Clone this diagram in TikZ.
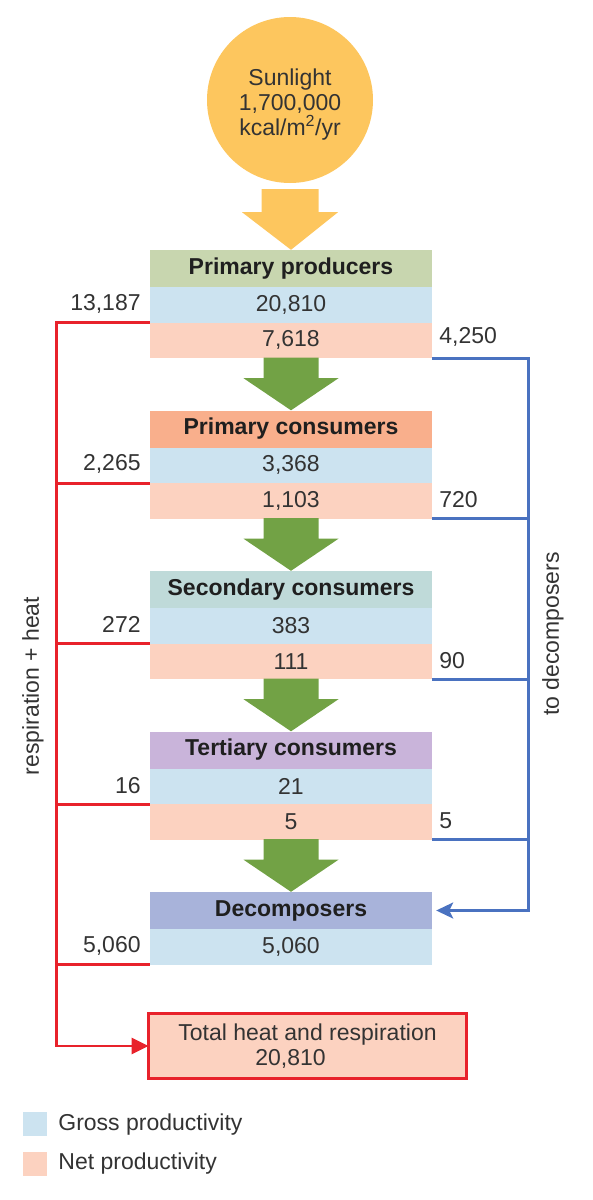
\documentclass[tikz,border=0pt]{standalone}
\usepackage{fontspec}
\setmainfont{Liberation Sans}
\usetikzlibrary{arrows.meta,calc}
\definecolor{csun}{HTML}{FDC65E}
\definecolor{cpp}{HTML}{C8D6AF}
\definecolor{cgross}{HTML}{CCE3F0}
\definecolor{cnet}{HTML}{FCD2C0}
\definecolor{cpc}{HTML}{F9AF8C}
\definecolor{csc}{HTML}{BFDAD9}
\definecolor{ctc}{HTML}{C9B4DA}
\definecolor{cdc}{HTML}{A8B3DA}
\definecolor{cgreen}{HTML}{72A245}
\definecolor{cred}{HTML}{E8222B}
\definecolor{cblue}{HTML}{4A72C0}
\definecolor{tgray}{HTML}{333333}
\newcommand\blockarr[3]{%
  \fill[#3] ($(#1.south)+(-27.5,-0.5)$) -- ($(#1.south)+(27.5,-0.5)$) -- ($(#1.south)+(27.5,20)$)
   -- ($(#1.south)+(47.5,20)$) -- (#2.north) -- ($(#1.south)+(-47.5,20)$) -- ($(#1.south)+(-27.5,20)$) -- cycle;}
\begin{document}
\begin{tikzpicture}[x=1pt,y=-1pt,
  txt/.style={font=\fontsize{23}{25}\selectfont, text=tgray, inner sep=0},
  rowbox/.style={txt, rectangle, minimum width=282pt, inner sep=0},
  hdr/.style={rowbox, font=\fontsize{23}{25}\selectfont\bfseries, text=black!88, minimum height=37pt, fill=#1},
  gross/.style={rowbox, minimum height=35.5pt, fill=cgross},
  net/.style={rowbox, minimum height=35.5pt, fill=cnet},
  redl/.style={draw=cred, line width=2.8pt},
  bluel/.style={draw=cblue, line width=2.8pt},
  lab/.style={txt}
]
\useasboundingbox (0,0) rectangle (592,1200);

% sun
\node[circle, fill=csun, minimum size=166pt, inner sep=0] (sun) at (290,100) {};
\node[txt, align=center] (suntext) at ($(sun.center)+(0,5)$)
  {Sunlight\\1,700,000\\kcal/m\textsuperscript{2}/yr};

% boxes
\node[hdr=cpp] (ph) at (291,268.5) {Primary producers};
\node[gross] (pg) at (291,304.75) {20,810};
\node[net] (pn) at (291,340.25) {7,618};

\node[hdr=cpc] (ch) at (291,429) {Primary consumers};
\node[gross] (cg) at (291,465.25) {3,368};
\node[net] (cn) at (291,500.75) {1,103};

\node[hdr=csc] (sh) at (291,589.5) {Secondary consumers};
\node[gross] (sg) at (291,625.75) {383};
\node[net] (sn) at (291,661.25) {111};

\node[hdr=ctc] (th) at (291,750) {Tertiary consumers};
\node[gross] (tg) at (291,786.25) {21};
\node[net] (tn) at (291,821.75) {5};

\node[hdr=cdc] (dh) at (291,910.5) {Decomposers};
\node[gross] (dg) at (291,946.75) {5,060};

\node[txt, rectangle, draw=cred, line width=3pt, fill=cnet, minimum width=318pt, minimum height=65pt, align=center, outer sep=0] (total) at (307.5,1046)
  {Total heat and respiration\\20,810\hspace*{34pt}};

% sun arrow
\fill[csun] ($(sun.south)+(-28.5,6)$) -- ($(sun.south)+(28.5,6)$) -- ($(sun.south)+(28.5,29)$)
  -- ($(sun.south)+(48,29)$) -- (ph.north) -- ($(sun.south)+(-48,29)$) -- ($(sun.south)+(-28.5,29)$) -- cycle;

% green arrows
\blockarr{pn}{ch}{cgreen}
\blockarr{cn}{sh}{cgreen}
\blockarr{sn}{th}{cgreen}
\blockarr{tn}{dh}{cgreen}

% red connectors
\coordinate (rc) at ($(total.west)+(-92,0)$);
\draw[redl, -{Triangle[length=17pt,width=16pt]}] (pg.south west) -| (rc) -- (total.west);
\draw[redl] (cg.south west) -- (cg.south west -| rc);
\draw[redl] (sg.south west) -- (sg.south west -| rc);
\draw[redl] (tg.south west) -- (tg.south west -| rc);
\draw[redl] (dg.south west) -- (dg.south west -| rc);

% blue connectors
\coordinate (bc) at ($(dh.east)+(96,0)$);
\draw[bluel, -{Stealth[length=17pt,width=16pt,inset=4pt]}] (pn.south east) -| (bc) -- ($(dh.east)+(4,0)$);
\draw[bluel] (cn.south east) -- (cn.south east -| bc);
\draw[bluel] (sn.south east) -- (sn.south east -| bc);
\draw[bluel] (tn.south east) -- (tn.south east -| bc);

% left labels
\node[lab, anchor=east] (l1) at ($(pg.west)+(-9,-1)$) {13,187};
\node[lab, anchor=east] (l2) at ($(cg.west)+(-9,-1)$) {2,265};
\node[lab, anchor=east] (l3) at ($(sg.west)+(-9,-1)$) {272};
\node[lab, anchor=east] (l4) at ($(tg.west)+(-9,-1)$) {16};
\node[lab, anchor=east] (l5) at ($(dg.west)+(-9,-1)$) {5,060};

% right labels
\node[lab, anchor=west] (r1) at ($(pn.east)+(7,-3)$) {4,250};
\node[lab, anchor=west] (r2) at ($(cn.east)+(7,-1)$) {720};
\node[lab, anchor=west] (r3) at ($(sn.east)+(7,-1)$) {90};
\node[lab, anchor=west] (r4) at ($(tn.east)+(7,-1)$) {5};

% side texts
\node[lab, rotate=90] (resp) at (33,686) {respiration + heat};
\node[lab, rotate=90] (todec) at (553,634) {to decomposers};

% legend
\node[rectangle, fill=cgross, minimum size=24pt, inner sep=0] (lg) at (35,1124) {};
\node[lab, anchor=west] (lgt) at ($(lg.east)+(11,1)$) {Gross productivity};
\node[rectangle, fill=cnet, minimum size=24pt, inner sep=0] (ln) at (35,1164) {};
\node[lab, anchor=west] (lnt) at ($(ln.east)+(11,0)$) {Net productivity};
\end{tikzpicture}
\end{document}
